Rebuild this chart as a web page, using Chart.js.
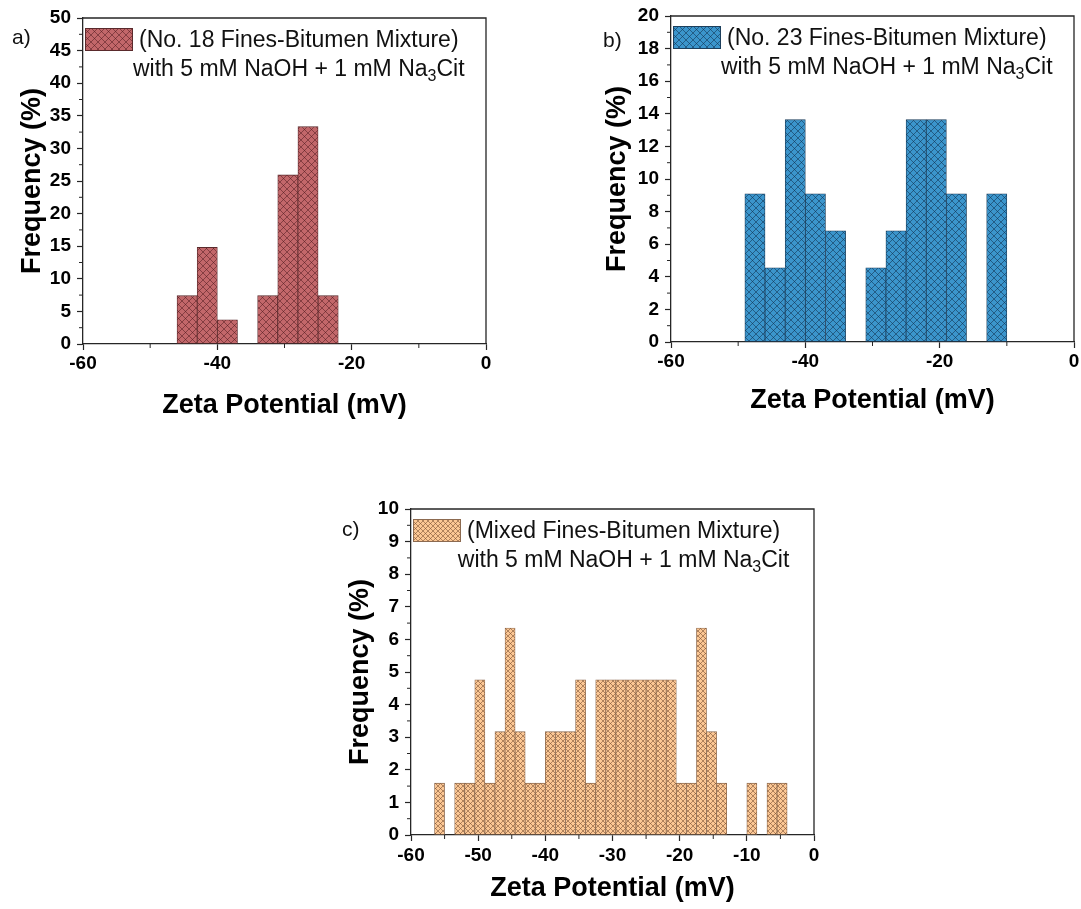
<!DOCTYPE html>
<html>
<head>
<meta charset="utf-8">
<script src="https://cdn.jsdelivr.net/npm/chart.js@4.4.1/dist/chart.umd.min.js"></script>
<style>
  html, body { margin: 0; padding: 0; background: #fff; overflow: hidden; }
  body { width: 1081px; height: 909px; position: relative; }
  canvas { position: absolute; }
</style>
</head>
<body>
<canvas id="chart-a" width="540" height="430" style="left:0px;top:0px"></canvas>
<canvas id="chart-b" width="540" height="430" style="left:588px;top:-2px"></canvas>
<canvas id="chart-c" width="540" height="430" style="left:328px;top:491px"></canvas>
<script>
// Bin centres (mV) and frequencies (%) for each sample
const zetaA = [-44.5, -41.5, -38.5, -35.5, -32.5, -29.5, -26.5, -23.5];
const freqA = [7.41, 14.81, 3.70, 0, 7.41, 25.93, 33.33, 7.41];

const zetaB = [-47.5, -44.5, -41.5, -38.5, -35.5, -32.5, -29.5, -26.5, -23.5, -20.5, -17.5, -14.5, -11.5];
const freqB = [9.09, 4.55, 13.64, 9.09, 6.82, 0, 4.55, 6.82, 13.64, 13.64, 9.09, 0, 9.09];

const zetaC = [-55.75, -54.25, -52.75, -51.25, -49.75, -48.25, -46.75, -45.25, -43.75, -42.25,
  -40.75, -39.25, -37.75, -36.25, -34.75, -33.25, -31.75, -30.25, -28.75, -27.25,
  -25.75, -24.25, -22.75, -21.25, -19.75, -18.25, -16.75, -15.25, -13.75, -12.25,
  -10.75, -9.25, -7.75, -6.25, -4.75];
const freqC = [1.59, 0, 1.59, 1.59, 4.76, 1.59, 3.17, 6.35, 3.17, 1.59,
  1.59, 3.17, 3.17, 3.17, 4.76, 1.59, 4.76, 4.76, 4.76, 4.76,
  4.76, 4.76, 4.76, 4.76, 1.59, 1.59, 6.35, 3.17, 1.59, 0,
  0, 1.59, 0, 1.59, 1.59];

// Legend text: sample name, then the electrolyte line split around the subscript
const sampleA = '(No. 18 Fines-Bitumen Mixture)';
const sampleB = '(No. 23 Fines-Bitumen Mixture)';
const sampleC = '(Mixed Fines-Bitumen Mixture)';
const electrolyte = ['with 5 mM NaOH + 1 mM Na', '3', 'Cit'];

const FONT = "'Liberation Sans', Arial, Helvetica, sans-serif";
const INK = '#262626';

// crosshatch fill for the bars
function hatch(base, ink, size) {
  const c = document.createElement('canvas');
  c.width = c.height = size;
  const g = c.getContext('2d');
  g.fillStyle = base;
  g.fillRect(0, 0, size, size);
  g.strokeStyle = ink;
  g.lineWidth = 0.9;
  g.beginPath();
  g.moveTo(-1, -1); g.lineTo(size + 1, size + 1);
  g.moveTo(-1, size + 1); g.lineTo(size + 1, -1);
  g.stroke();
  return g.createPattern(c, 'repeat');
}

// frame, minor ticks, legend entry and panel letter
const decorations = {
  id: 'decorations',
  afterDraw(chart, args, o) {
    const {ctx, chartArea: a, scales: {x, y}} = chart;
    const ds = chart.data.datasets[0];
    ctx.save();

    ctx.strokeStyle = INK;
    ctx.lineWidth = 1.3;
    ctx.beginPath();
    ctx.moveTo(a.left, a.top);
    ctx.lineTo(a.right, a.top);
    ctx.lineTo(a.right, a.bottom);
    ctx.stroke();

    const xs = x.options.ticks.stepSize, ys = y.options.ticks.stepSize;
    ctx.lineWidth = 1;
    ctx.beginPath();
    for (let v = x.min + xs / 2; v < x.max; v += xs) {
      const px = x.getPixelForValue(v);
      ctx.moveTo(px, a.bottom);
      ctx.lineTo(px, a.bottom + 4);
    }
    for (let v = y.min + ys / 2; v < y.max; v += ys) {
      const py = y.getPixelForValue(v);
      ctx.moveTo(a.left, py);
      ctx.lineTo(a.left - 4, py);
    }
    ctx.stroke();

    // legend swatch
    const bx = a.left + 2, by = a.top + 10;
    ctx.fillStyle = ds.backgroundColor;
    ctx.fillRect(bx, by, 48, 23);
    ctx.strokeStyle = ds.borderColor;
    ctx.lineWidth = 1;
    ctx.strokeRect(bx + 0.5, by + 0.5, 47, 22);

    // legend text, second line centred under the first
    ctx.fillStyle = '#111';
    ctx.textBaseline = 'middle';
    ctx.textAlign = 'left';
    ctx.font = `23px ${FONT}`;
    const tx = bx + 54;
    ctx.fillText(o.sample, tx, a.top + 23);
    const mid = tx + ctx.measureText(o.sample).width / 2;
    const [pre, sub, post] = electrolyte;
    const wPre = ctx.measureText(pre).width, wPost = ctx.measureText(post).width;
    ctx.font = `16px ${FONT}`;
    const wSub = ctx.measureText(sub).width;
    let lx = mid - (wPre + wSub + wPost) / 2;
    const ly = a.top + 52;
    ctx.font = `23px ${FONT}`;
    ctx.fillText(pre, lx, ly);
    lx += wPre;
    ctx.font = `16px ${FONT}`;
    ctx.fillText(sub, lx, ly + 7);
    lx += wSub;
    ctx.font = `23px ${FONT}`;
    ctx.fillText(post, lx, ly);

    // panel letter
    ctx.font = `21px ${FONT}`;
    ctx.fillText(o.panel, a.left + o.panelDx, a.top + o.panelDy);
    ctx.restore();
  }
};

function histogram(id, zeta, freq, s) {
  const tickFont = {family: FONT, size: 19, weight: 'bold'};
  const titleFont = {family: FONT, size: 27, weight: 'bold'};
  return new Chart(document.getElementById(id), {
    type: 'bar',
    data: {
      datasets: [{
        data: zeta.map((z, i) => ({x: z, y: freq[i]})),
        backgroundColor: hatch(s.base, s.hatch, s.cell),
        borderColor: s.edge,
        borderWidth: 0.8,
        borderSkipped: false,
        barPercentage: 1,
        categoryPercentage: 1
      }]
    },
    options: {
      responsive: false,
      maintainAspectRatio: false,
      animation: false,
      devicePixelRatio: 1,
      layout: {padding: {top: 18, right: 54, left: 0, bottom: 0}},
      plugins: {
        legend: {display: false},
        tooltip: {enabled: false},
        decorations: {sample: s.sample, panel: s.panel, panelDx: s.panelDx, panelDy: s.panelDy}
      },
      scales: {
        x: {
          type: 'linear',
          min: -60, max: 0,
          offset: false,
          ticks: {stepSize: s.xStep, font: tickFont, color: '#000', padding: s.xPad},
          grid: {offset: false, drawOnChartArea: false, tickLength: 6, tickColor: INK, tickWidth: 1.2},
          border: {color: INK, width: 1.3},
          title: {display: true, text: 'Zeta Potential (mV)', font: titleFont, color: '#000', padding: {bottom: s.xTitle}},
          afterFit(scale) { scale.height = 86; }
        },
        y: {
          min: 0, max: s.yMax,
          ticks: {stepSize: s.yStep, font: tickFont, color: '#000', padding: 6},
          grid: {drawOnChartArea: false, tickLength: 6, tickColor: INK, tickWidth: 1.2},
          border: {color: INK, width: 1.3},
          title: {display: true, text: 'Frequency (%)', font: titleFont, color: '#000', padding: {top: s.yTitle}},
          afterFit(scale) { scale.width = 83; }
        }
      }
    },
    plugins: [decorations]
  });
}

histogram('chart-a', zetaA, freqA, {
  base: '#c2676a', hatch: 'rgba(70,20,25,0.55)', edge: '#5a2a2c', cell: 7,
  sample: sampleA, panel: 'a)', panelDx: -71, panelDy: 20,
  xStep: 20, yMax: 50, yStep: 5, xPad: 2, xTitle: 8, yTitle: 16
});
histogram('chart-b', zetaB, freqB, {
  base: '#3b95cc', hatch: 'rgba(15,45,75,0.6)', edge: '#1d3f5c', cell: 7,
  sample: sampleB, panel: 'b)', panelDx: -68, panelDy: 25,
  xStep: 20, yMax: 20, yStep: 2, xPad: 2, xTitle: 11, yTitle: 13
});
histogram('chart-c', zetaC, freqC, {
  base: '#fcc794', hatch: 'rgba(110,70,45,0.6)', edge: '#8c6a50', cell: 5,
  sample: sampleC, panel: 'c)', panelDx: -69, panelDy: 21,
  xStep: 10, yMax: 10, yStep: 1, xPad: 3, xTitle: 16, yTitle: 16
});
</script>
</body>
</html>
